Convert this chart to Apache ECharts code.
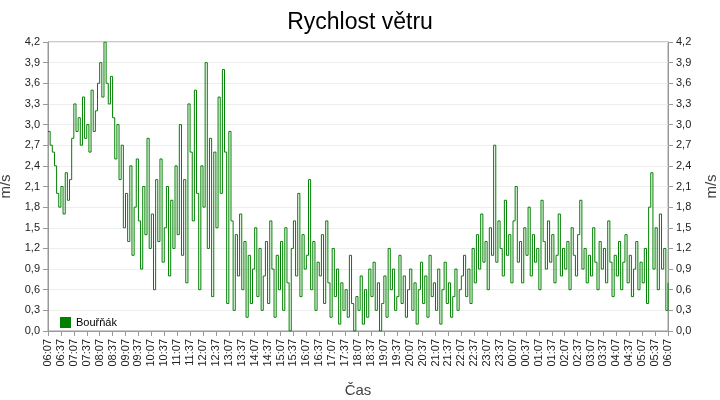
<!DOCTYPE html><html><head><meta charset="utf-8"><script src="https://cdn.jsdelivr.net/npm/echarts@6/dist/echarts.min.js"></script></head><body style="margin:0"><div id="c" style="width:720px;height:400px"></div><script>
const seriesName='Bouřňák';
const startTime='06:07';
const stepMinutes=5;
const values=[
2.9,2.7,2.6,2.4,2.0,1.8, 2.1,1.7,2.3,1.9,2.2,2.8, 3.3,2.9,3.1,2.7,3.4,2.8, 3.0,2.6,3.5,2.9,3.2,3.6,
3.9,3.4,4.2,3.6,3.3,3.7, 3.1,2.5,3.0,2.2,2.7,1.5, 2.0,1.3,2.4,1.1,1.8,2.5, 1.6,0.9,2.1,1.4,2.8,1.2,
1.7,0.6,2.2,1.3,2.5,1.0, 1.5,2.1,0.8,1.9,1.2,2.4, 1.4,3.0,1.1,2.2,0.7,3.3, 2.6,1.6,3.5,2.0,0.6,2.4,
1.8,3.9,1.2,2.8,0.5,2.6, 1.5,3.4,2.0,3.8,2.6,0.4, 2.9,1.6,0.3,1.4,0.8,1.7, 0.6,1.3,0.2,1.1,0.4,0.9,
1.5,0.5,1.2,0.3,0.8,1.3, 0.4,1.6,0.9,0.2,1.1,0.6, 1.3,0.3,1.5,0.7,0.0,1.2, 1.6,0.8,2.0,0.5,1.4,0.9,
1.1,2.2,0.6,1.3,0.3,1.0, 0.8,1.4,0.4,1.6,0.7,0.2, 1.2,0.5,0.9,0.1,0.7,0.3, 0.6,0.2,1.1,0.4,0.0,0.5,
0.3,0.8,0.1,0.6,0.2,0.9, 0.5,1.0,0.3,0.7,0.0,0.4, 0.8,0.2,1.2,0.6,0.9,0.3, 0.5,1.1,0.4,0.8,0.2,0.6,
0.9,0.3,0.7,0.1,0.6,1.0, 0.4,0.8,0.2,1.1,0.5,0.7, 0.3,0.9,0.1,0.6,1.0,0.4, 0.7,0.2,0.5,0.9,0.3,0.6,
0.8,1.1,0.5,0.9,0.4,1.2, 0.7,1.4,0.9,1.7,1.0,1.3, 0.6,1.5,1.1,2.7,1.0,1.6, 1.2,0.8,1.9,1.1,1.4,0.7,
1.6,2.1,1.0,1.3,0.7,1.5, 1.1,1.8,0.8,1.4,1.0,1.2, 0.6,1.9,1.3,0.9,1.6,1.0, 1.4,0.7,1.1,1.7,0.8,1.2,
0.9,1.3,0.6,1.5,1.1,0.8, 1.4,1.9,0.9,1.2,0.7,1.1, 0.8,1.5,1.0,0.6,1.3,0.9, 1.2,0.7,1.6,1.0,0.5,1.1,
0.8,1.3,0.6,1.0,1.4,0.7, 1.1,0.5,0.9,1.3,0.6,1.0, 0.7,1.2,0.4,1.8,2.3,0.9, 1.5,0.6,1.7,0.9,1.2,0.3, 0.7];
const [h0,m0]=startTime.split(':').map(Number);
const categories=values.map((v,i)=>{const t=(h0*60+m0+i*stepMinutes)%1440;return String(Math.floor(t/60)).padStart(2,'0')+':'+String(t%60).padStart(2,'0');});
const yAx=(pos)=>({type:'value',position:pos,min:0,max:4.2,interval:0.3,name:'m/s',nameLocation:'middle',nameGap:pos==='left'?34:36,nameTextStyle:{fontSize:15,color:'#444'},
 axisLine:{show:true,lineStyle:{color:'#999'}},axisTick:{show:true,lineStyle:{color:'#999'}},
 axisLabel:{fontSize:11,color:'#222',formatter:v=>v.toFixed(1).replace('.',',')},
 splitLine:{show:pos==='left',lineStyle:{color:'#eee'}}});
const chart=echarts.init(document.getElementById('c'));
chart.setOption({animation:false,
title:{text:'Rychlost větru',left:'center',top:6,textStyle:{fontSize:23,fontWeight:'normal',color:'#000',fontFamily:'Liberation Sans'}},
grid:{left:48,right:52,top:42,bottom:69,containLabel:false,outerBoundsMode:'none',show:true,borderColor:'#999'},
legend:{left:55,top:312,orient:'vertical',icon:'rect',itemWidth:11,itemHeight:11,textStyle:{fontSize:11,color:'#000'},data:[seriesName]},
xAxis:{type:'category',data:categories,boundaryGap:false,name:'Čas',nameLocation:'middle',nameGap:52,nameTextStyle:{fontSize:15,color:'#444'},
 axisLine:{lineStyle:{color:'#999'}},axisTick:{interval:5,lineStyle:{color:'#999'}},
 axisLabel:{interval:5,rotate:90,fontSize:11,color:'#222'}},
yAxis:[yAx('left'),yAx('right')],
series:[{name:seriesName,type:'line',step:'end',data:values,showSymbol:false,color:'#008000',lineStyle:{width:1,color:'#008000'}}]});
</script></body></html>
